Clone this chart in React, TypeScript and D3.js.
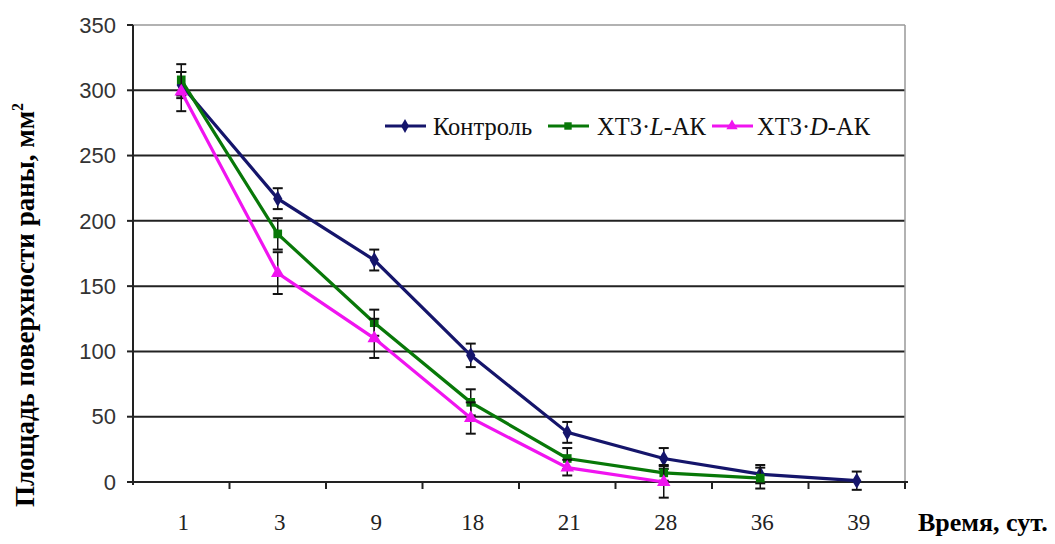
import React, { useRef, useEffect } from 'react';
import * as d3 from 'd3';

const width = 1055;
const height = 544;
const margin = { top: 25, right: 150, bottom: 62, left: 133 };

const days = ['1', '3', '9', '18', '21', '28', '36', '39'];
const yTicks = [0, 50, 100, 150, 200, 250, 300, 350];

const controlVals = [304, 217, 170, 97, 38, 18, 6, 1];
const controlErr = [10, 8, 8, 9, 8, 8, 7, 7];
const lakVals = [308, 190, 122, 61, 18, 7, 3];
const lakErr = [12, 12, 10, 10, 8, 6, 8];
const dakVals = [299, 160, 110, 49, 11, 0];
const dakErr = [15, 16, 15, 12, 6, 12];

const series = [
    { name: 'Контроль', color: '#15156b', shape: 'diamond', values: controlVals, err: controlErr },
    { name: 'ХТЗ·L-АК', color: '#087808', shape: 'square', values: lakVals, err: lakErr },
    { name: 'ХТЗ·D-АК', color: '#f014f0', shape: 'triangle', values: dakVals, err: dakErr },
];

const symbols: Record<string, d3.SymbolType> = {
    diamond: d3.symbolDiamond,
    square: d3.symbolSquare,
    triangle: d3.symbolTriangle,
};

const serif = "'Liberation Serif', 'Times New Roman', serif";
const sans = "'Liberation Sans', Arial, sans-serif";

export default function App() {
    const svgRef = useRef<SVGSVGElement>(null);

    useEffect(() => {
        const svg = d3.select(svgRef.current);
        svg.selectAll('*').remove();

        const x = d3.scaleBand()
            .domain(days)
            .range([margin.left, width - margin.right]);
        const y = d3.scaleLinear()
            .domain([0, 350])
            .range([height - margin.bottom, margin.top]);

        const x0 = margin.left;
        const x1 = width - margin.right;

        // gridlines
        svg.append('g')
            .selectAll('line')
            .data(yTicks.filter(t => t > 0))
            .enter()
            .append('line')
            .attr('x1', x0)
            .attr('x2', x1)
            .attr('y1', d => y(d))
            .attr('y2', d => y(d))
            .attr('stroke', d => d === 350 ? '#999' : '#222')
            .attr('stroke-width', d => d === 350 ? 1.5 : 2);

        // right border
        svg.append('line')
            .attr('x1', x1).attr('x2', x1)
            .attr('y1', y(350)).attr('y2', y(0))
            .attr('stroke', '#999')
            .attr('stroke-width', 1.5);

        // axes
        svg.append('line')
            .attr('x1', x0).attr('x2', x0)
            .attr('y1', y(350)).attr('y2', y(0) + 3)
            .attr('stroke', '#222').attr('stroke-width', 2);
        svg.append('line')
            .attr('x1', x0 - 5).attr('x2', x1 + 3)
            .attr('y1', y(0)).attr('y2', y(0))
            .attr('stroke', '#222').attr('stroke-width', 2);

        // y ticks
        const yg = svg.append('g');
        yTicks.forEach(t => {
            yg.append('line')
                .attr('x1', x0 - 6).attr('x2', x0)
                .attr('y1', y(t)).attr('y2', y(t))
                .attr('stroke', '#222').attr('stroke-width', 2);
            yg.append('text')
                .attr('x', x0 - 17)
                .attr('y', y(t))
                .attr('dy', '0.35em')
                .attr('text-anchor', 'end')
                .style('font-family', sans)
                .style('font-size', '22px')
                .attr('fill', '#333')
                .text(t);
        });

        // x ticks (between categories)
        days.forEach((d, i) => {
            if (i > 0) {
                svg.append('line')
                    .attr('x1', x(d)!).attr('x2', x(d)!)
                    .attr('y1', y(0)).attr('y2', y(0) + 7)
                    .attr('stroke', '#222').attr('stroke-width', 2);
            }
            svg.append('text')
                .attr('x', x(d)! + x.bandwidth() / 2 + 2)
                .attr('y', 530)
                .attr('text-anchor', 'middle')
                .style('font-family', serif)
                .style('font-size', '23px')
                .attr('fill', '#222')
                .text(d);
        });
        svg.append('line')
            .attr('x1', x1).attr('x2', x1)
            .attr('y1', y(0)).attr('y2', y(0) + 7)
            .attr('stroke', '#222').attr('stroke-width', 2);

        const cx = (i: number) => x(days[i])! + x.bandwidth() / 2;

        // series
        series.forEach(s => {
            const g = svg.append('g');
            const line = d3.line<number>()
                .x((_, i) => cx(i))
                .y(v => y(v));
            g.append('path')
                .datum(s.values)
                .attr('d', line)
                .attr('fill', 'none')
                .attr('stroke', s.color)
                .attr('stroke-width', 3.2);

            s.values.forEach((v, i) => {
                const e = s.err[i];
                const px = cx(i);
                g.append('line')
                    .attr('x1', px).attr('x2', px)
                    .attr('y1', y(v + e)).attr('y2', y(v - e))
                    .attr('stroke', '#111').attr('stroke-width', 1.5);
                [v + e, v - e].forEach(c => {
                    g.append('line')
                        .attr('x1', px - 5).attr('x2', px + 5)
                        .attr('y1', y(c)).attr('y2', y(c))
                        .attr('stroke', '#111').attr('stroke-width', 2);
                });
            });

            g.selectAll('path.m')
                .data(s.values)
                .enter()
                .append('path')
                .attr('class', 'm')
                .attr('transform', (v, i) => `translate(${cx(i)},${y(v)})`)
                .attr('d', d3.symbol().type(symbols[s.shape]).size(s.shape === 'triangle' ? 80 : 75)())
                .attr('fill', s.color);
        });

        // legend
        const leg = [
            { x: 385, tx: 433 },
            { x: 548, tx: 597 },
            { x: 712, tx: 757 },
        ];
        const ly = 126;
        series.forEach((s, i) => {
            const l = leg[i];
            svg.append('line')
                .attr('x1', l.x).attr('x2', l.x + 41)
                .attr('y1', ly).attr('y2', ly)
                .attr('stroke', s.color).attr('stroke-width', 3);
            svg.append('path')
                .attr('transform', `translate(${l.x + 20},${ly})`)
                .attr('d', d3.symbol().type(symbols[s.shape]).size(55)())
                .attr('fill', s.color);
            const t = svg.append('text')
                .attr('x', l.tx)
                .attr('y', ly)
                .attr('dy', '0.35em')
                .style('font-family', serif)
                .style('font-size', '24.5px')
                .attr('fill', '#111');
            if (i === 0) {
                t.text(s.name);
            } else {
                const letter = i === 1 ? 'L' : 'D';
                t.append('tspan').text('ХТЗ·');
                t.append('tspan').style('font-style', 'italic').text(letter);
                t.append('tspan').text('-АК');
            }
        });

        // axis titles
        const yt = svg.append('text')
            .attr('transform', 'translate(34,305) rotate(-90)')
            .attr('text-anchor', 'middle')
            .style('font-family', serif)
            .style('font-weight', 'bold')
            .style('font-size', '27px')
            .attr('fill', '#000');
        yt.append('tspan').text('Площадь поверхности раны, мм');
        yt.append('tspan').attr('dy', -11).style('font-size', '16px').text('2');

        svg.append('text')
            .attr('x', 918)
            .attr('y', 531)
            .style('font-family', serif)
            .style('font-weight', 'bold')
            .style('font-size', '26px')
            .attr('fill', '#000')
            .text('Время, сут.');
    }, []);

    return (
        <svg width={width} height={height} ref={svgRef}
            style={{ position: 'absolute', left: 0, top: 0, background: '#fff' }}></svg>
    );
}
